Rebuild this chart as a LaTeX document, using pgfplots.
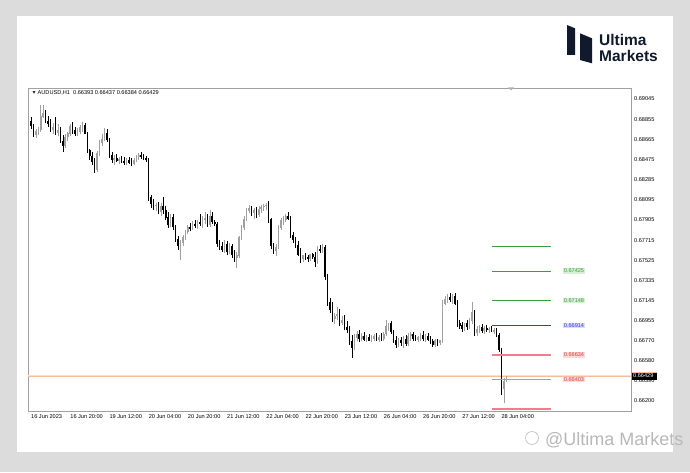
\documentclass[border=0pt]{standalone}
\usepackage{pgfplots}
\pgfplotsset{compat=1.18}
\usepackage{pgfplotstable}
\usepackage{fontspec}
\setmainfont{Liberation Sans}

\definecolor{bgout}{HTML}{DCDCDC}
\definecolor{frame}{HTML}{A0A0A0}
\definecolor{bull}{HTML}{A0A0A0}
\definecolor{navy}{HTML}{111A2C}
\definecolor{fibgreen}{HTML}{3A9E3A}
\definecolor{fibgreenbg}{HTML}{D6F0D6}
\definecolor{fibblue}{HTML}{3535F0}
\definecolor{fibbluebg}{HTML}{DCDCFA}
\definecolor{fibred}{HTML}{F07D8C}
\definecolor{fibredtxt}{HTML}{E03A3A}
\definecolor{fibredbg}{HTML}{FFD8DC}
\definecolor{bidline}{HTML}{F4BE9C}

% hourly AUDUSD bars (index, open, high, low, close), rising bars
\pgfplotstableread{
i o h l c
2 0.6871 0.6876 0.6868 0.6874
3 0.6874 0.6878 0.6871 0.6876
4 0.6876 0.6899 0.6874 0.6888
5 0.6888 0.6899 0.6887 0.6891
9 0.6876 0.6882 0.6872 0.6878
11 0.6873 0.6881 0.6870 0.6875
14 0.6860 0.6872 0.6858 0.6869
15 0.6869 0.6874 0.6865 0.6872
16 0.6872 0.6881 0.6870 0.6879
19 0.6872 0.6877 0.6870 0.6874
20 0.6874 0.6880 0.6872 0.6878
21 0.6878 0.6883 0.6874 0.6880
27 0.6838 0.6856 0.6836 0.6854
28 0.6854 0.6866 0.6851 0.6863
29 0.6863 0.6872 0.6860 0.6867
30 0.6867 0.6877 0.6865 0.6872
34 0.6847 0.6852 0.6842 0.6849
36 0.6846 0.6850 0.6843 0.6848
39 0.6845 0.6849 0.6842 0.6847
42 0.6844 0.6849 0.6842 0.6847
43 0.6847 0.6852 0.6845 0.6850
44 0.6850 0.6854 0.6847 0.6852
51 0.6804 0.6807 0.6799 0.6805
53 0.6798 0.6807 0.6794 0.6804
57 0.6786 0.6796 0.6784 0.6793
61 0.6766 0.6772 0.6753 0.6769
62 0.6769 0.6776 0.6766 0.6774
63 0.6774 0.6781 0.6772 0.6779
64 0.6779 0.6786 0.6777 0.6784
66 0.6783 0.6790 0.6781 0.6787
68 0.6785 0.6791 0.6782 0.6789
70 0.6787 0.6794 0.6783 0.6791
71 0.6791 0.6798 0.6787 0.6792
73 0.6786 0.6800 0.6784 0.6794
79 0.6763 0.6772 0.6760 0.6768
81 0.6761 0.6769 0.6759 0.6766
84 0.6755 0.6760 0.6745 0.6757
85 0.6757 0.6776 0.6755 0.6774
86 0.6774 0.6786 0.6772 0.6783
87 0.6783 0.6794 0.6781 0.6791
88 0.6791 0.6802 0.6790 0.6799
89 0.6799 0.6805 0.6797 0.6802
91 0.6797 0.6802 0.6792 0.6800
93 0.6795 0.6804 0.6793 0.6801
94 0.6801 0.6805 0.6797 0.6803
95 0.6803 0.6806 0.6799 0.6804
96 0.6804 0.6807 0.6800 0.6805
100 0.6762 0.6768 0.6757 0.6765
101 0.6765 0.6786 0.6763 0.6783
102 0.6783 0.6792 0.6781 0.6790
103 0.6790 0.6794 0.6786 0.6791
104 0.6791 0.6796 0.6789 0.6794
111 0.6754 0.6758 0.6751 0.6757
114 0.6754 0.6759 0.6752 0.6758
117 0.6751 0.6766 0.6749 0.6763
119 0.6762 0.6768 0.6760 0.6765
124 0.6698 0.6703 0.6693 0.6700
125 0.6700 0.6709 0.6696 0.6702
127 0.6694 0.6700 0.6692 0.6696
132 0.6670 0.6683 0.6668 0.6680
133 0.6680 0.6686 0.6677 0.6683
135 0.6679 0.6684 0.6677 0.6681
137 0.6678 0.6682 0.6676 0.6680
139 0.6677 0.6682 0.6676 0.6679
140 0.6679 0.6683 0.6677 0.6681
142 0.6678 0.6682 0.6676 0.6680
144 0.6679 0.6685 0.6677 0.6683
145 0.6683 0.6696 0.6681 0.6691
146 0.6691 0.6694 0.6686 0.6693
150 0.6673 0.6679 0.6671 0.6677
152 0.6675 0.6681 0.6670 0.6678
154 0.6674 0.6684 0.6672 0.6681
155 0.6681 0.6685 0.6677 0.6683
158 0.6678 0.6681 0.6676 0.6680
159 0.6680 0.6684 0.6677 0.6682
161 0.6679 0.6683 0.6676 0.6681
165 0.6673 0.6678 0.6671 0.6677
167 0.6675 0.6678 0.6673 0.6677
168 0.6677 0.6715 0.6675 0.6712
169 0.6712 0.6719 0.6710 0.6716
170 0.6716 0.6721 0.6712 0.6718
172 0.6715 0.6721 0.6711 0.6719
177 0.6688 0.6694 0.6686 0.6693
179 0.6690 0.6698 0.6688 0.6696
180 0.6696 0.6713 0.6693 0.6704
182 0.6684 0.6691 0.6681 0.6688
183 0.6688 0.6692 0.6684 0.6690
185 0.6686 0.6691 0.6683 0.6689
187 0.6687 0.6690 0.6684 0.6688
189 0.6686 0.6689 0.6683 0.6687
193 0.6632 0.6642 0.6618 0.6639
194 0.66393 0.66437 0.66384 0.66429
}\bullbars

% falling bars
\pgfplotstableread{
i o h l c
0 0.6884 0.6888 0.6876 0.6879
1 0.6879 0.6881 0.6869 0.6871
6 0.6891 0.6894 0.6882 0.6884
7 0.6884 0.6889 0.6878 0.6881
8 0.6881 0.6886 0.6874 0.6876
10 0.6878 0.6888 0.6871 0.6873
12 0.6875 0.6878 0.6863 0.6865
13 0.6865 0.6871 0.6855 0.6860
17 0.6879 0.6883 0.6872 0.6875
18 0.6875 0.6878 0.6870 0.6872
22 0.6880 0.6882 0.6872 0.6872
23 0.6872 0.6874 0.6854 0.6856
24 0.6856 0.6858 0.6847 0.6851
25 0.6851 0.6855 0.6842 0.6845
26 0.6845 0.6849 0.6835 0.6838
31 0.6872 0.6876 0.6864 0.6866
32 0.6866 0.6868 0.6849 0.6852
33 0.6852 0.6855 0.6844 0.6847
35 0.6849 0.6853 0.6845 0.6846
37 0.6848 0.6851 0.6844 0.6846
38 0.6846 0.6850 0.6842 0.6845
40 0.6847 0.6850 0.6843 0.6845
41 0.6845 0.6849 0.6841 0.6844
45 0.6852 0.6855 0.6848 0.6850
46 0.6850 0.6853 0.6847 0.6849
47 0.6849 0.6851 0.6845 0.6847
48 0.6847 0.6849 0.6809 0.6812
49 0.6812 0.6814 0.6802 0.6806
50 0.6806 0.6810 0.6800 0.6804
52 0.6805 0.6808 0.6796 0.6798
54 0.6804 0.6812 0.6796 0.6800
55 0.6800 0.6804 0.6791 0.6793
56 0.6793 0.6798 0.6783 0.6786
58 0.6793 0.6796 0.6781 0.6784
59 0.6784 0.6786 0.6770 0.6773
60 0.6773 0.6775 0.6762 0.6766
65 0.6784 0.6788 0.6780 0.6783
67 0.6787 0.6791 0.6783 0.6785
69 0.6789 0.6796 0.6785 0.6787
72 0.6792 0.6796 0.6784 0.6786
74 0.6794 0.6798 0.6787 0.6789
75 0.6789 0.6791 0.6785 0.6787
76 0.6787 0.6789 0.6765 0.6768
77 0.6768 0.6772 0.6762 0.6766
78 0.6766 0.6770 0.6760 0.6763
80 0.6768 0.6771 0.6758 0.6761
82 0.6766 0.6768 0.6755 0.6758
83 0.6758 0.6762 0.6751 0.6755
90 0.6802 0.6804 0.6794 0.6797
92 0.6800 0.6803 0.6792 0.6795
97 0.6805 0.6808 0.6788 0.6791
98 0.6791 0.6792 0.6763 0.6766
99 0.6766 0.6769 0.6759 0.6762
105 0.6794 0.6798 0.6791 0.6792
106 0.6792 0.6794 0.6774 0.6776
107 0.6776 0.6779 0.6769 0.6772
108 0.6772 0.6775 0.6764 0.6767
109 0.6767 0.6771 0.6757 0.6758
110 0.6758 0.6764 0.6750 0.6754
112 0.6757 0.6760 0.6753 0.6756
113 0.6756 0.6758 0.6751 0.6754
115 0.6758 0.6760 0.6754 0.6756
116 0.6756 0.6760 0.6746 0.6751
118 0.6763 0.6767 0.6759 0.6762
120 0.6765 0.6767 0.6734 0.6737
121 0.6737 0.6740 0.6710 0.6713
122 0.6713 0.6717 0.6703 0.6706
123 0.6706 0.6713 0.6694 0.6698
126 0.6702 0.6707 0.6691 0.6694
128 0.6696 0.6701 0.6687 0.6690
129 0.6690 0.6695 0.6684 0.6687
130 0.6687 0.6691 0.6673 0.6676
131 0.6676 0.6682 0.6661 0.6670
134 0.6683 0.6687 0.6676 0.6679
136 0.6681 0.6685 0.6677 0.6678
138 0.6680 0.6683 0.6677 0.6677
141 0.6681 0.6684 0.6677 0.6678
143 0.6680 0.6684 0.6677 0.6679
147 0.6693 0.6695 0.6683 0.6685
148 0.6685 0.6687 0.6675 0.6677
149 0.6677 0.6681 0.6670 0.6673
151 0.6677 0.6680 0.6672 0.6675
153 0.6678 0.6682 0.6672 0.6674
156 0.6683 0.6685 0.6677 0.6679
157 0.6679 0.6682 0.6677 0.6678
160 0.6682 0.6686 0.6677 0.6679
162 0.6681 0.6684 0.6677 0.6678
163 0.6678 0.6681 0.6674 0.6676
164 0.6676 0.6678 0.6671 0.6673
166 0.6677 0.6679 0.6672 0.6675
171 0.6718 0.6722 0.6713 0.6715
173 0.6719 0.6722 0.6710 0.6712
174 0.6712 0.6715 0.6690 0.6693
175 0.6693 0.6696 0.6688 0.6691
176 0.6691 0.6694 0.6685 0.6688
178 0.6693 0.6696 0.6687 0.6690
181 0.6704 0.6706 0.6681 0.6684
184 0.6690 0.6693 0.6684 0.6686
186 0.6689 0.6692 0.6685 0.6687
188 0.6688 0.6691 0.6685 0.6686
190 0.6687 0.6689 0.6680 0.6682
191 0.6682 0.6684 0.6666 0.6668
192 0.6668 0.6670 0.6626 0.6632
}\bearbars

\pgfplotsset{
  candle/.style 2 args={draw=none, mark=none, forget plot,
    error bars/.cd, y dir=both, y explicit, error mark=none,
    error bar style={draw=#2, line width=#1, line cap=butt}},
  level/.style 2 args={forget plot, draw=#1, line width=#2},
}

\begin{document}
\begin{tikzpicture}
\fill[bgout] (0pt,0pt) rectangle (690pt,472pt);
\fill[white] (17pt,20pt) rectangle (673pt,456pt);

% logo
\fill[navy] (567pt,447pt) -- (575pt,443.7pt) -- (575pt,417pt) -- (567pt,417pt) -- cycle;
\fill[navy] (580pt,438.7pt) -- (592pt,433.7pt) -- (592pt,408.7pt) -- (580pt,412pt) -- cycle;
\node[anchor=base west, inner sep=0pt, text=navy, font=\fontsize{15.5}{16}\selectfont\bfseries] at (599pt,426pt) {Ultima};
\node[anchor=base west, inner sep=0pt, text=navy, font=\fontsize{15.5}{16}\selectfont\bfseries] at (599pt,410pt) {Markets};

\begin{axis}[
  at={(28pt,61pt)}, anchor=south west,
  scale only axis, width=603pt, height=323pt,
  xmin=-1.22, xmax=244.9,
  ymin=0.66106, ymax=0.69149,
  clip=false,
  axis line style={draw=frame, line width=0.8pt},
  major tick length=0pt,
  xtick={0,16,32,48,64,80,96,112,128,144,160,176,192},
  xticklabels={16 Jun 2023,16 Jun 20:00,19 Jun 12:00,20 Jun 04:00,20 Jun 20:00,21 Jun 12:00,22 Jun 04:00,22 Jun 20:00,23 Jun 12:00,26 Jun 04:00,26 Jun 20:00,27 Jun 12:00,28 Jun 04:00},
  xticklabel style={anchor=north west, inner sep=0pt, yshift=-3pt, font=\fontsize{5.6}{6}\selectfont},
  ytick={0.69045,0.68855,0.68665,0.68475,0.68285,0.68095,0.67905,0.67715,0.67525,0.67335,0.67145,0.66955,0.66770,0.66580,0.66390,0.66200},
  yticklabels={0.69045,0.68855,0.68665,0.68475,0.68285,0.68095,0.67905,0.67715,0.67525,0.67335,0.67145,0.66955,0.66770,0.66580,0.66390,0.66200},
  yticklabel pos=right,
  yticklabel style={anchor=west, inner sep=0pt, xshift=3pt, font=\fontsize{5.6}{6}\selectfont},
]

% bid / ask lines
\addplot[level={bidline}{0.7pt}] coordinates {(-1.22,0.66429) (244.9,0.66429)};
\addplot[level={bidline!50}{0.6pt}] coordinates {(-1.22,0.66447) (244.9,0.66447)};

% wicks
\addplot[candle={0.6pt}{bull}] table[x=i,
  y expr={(\thisrow{h}+\thisrow{l})/2},
  y error expr={(\thisrow{h}-\thisrow{l})/2}] {\bullbars};
\addplot[candle={0.6pt}{black}] table[x=i,
  y expr={(\thisrow{h}+\thisrow{l})/2},
  y error expr={(\thisrow{h}-\thisrow{l})/2}] {\bearbars};
% bodies
\addplot[candle={1.6pt}{bull}] table[x=i,
  y expr={(\thisrow{o}+\thisrow{c})/2},
  y error expr={(\thisrow{c}-\thisrow{o})/2+0.00002}] {\bullbars};
\addplot[candle={1.6pt}{black}] table[x=i,
  y expr={(\thisrow{o}+\thisrow{c})/2},
  y error expr={(\thisrow{o}-\thisrow{c})/2+0.00002}] {\bearbars};

% fibonacci levels
\addplot[level={fibgreen}{0.9pt}] coordinates {(188.2,0.67656) (212.2,0.67656)};
\addplot[level={fibgreen}{0.9pt}] coordinates {(188.2,0.67425) (212.2,0.67425)};
\addplot[level={fibgreen}{0.9pt}] coordinates {(188.2,0.67148) (212.2,0.67148)};
\addplot[level={fibblue}{0.9pt}] coordinates {(188.2,0.66914) (212.2,0.66914)};
\addplot[level={fibred}{1.4pt}] coordinates {(188.2,0.66634) (212.2,0.66634)};
\addplot[level={fibred}{1.4pt}] coordinates {(188.2,0.66403) (212.2,0.66403)};
\addplot[level={fibred}{1.4pt}] coordinates {(188.2,0.66126) (212.2,0.66126)};

\tikzset{lvl/.style={anchor=west, inner xsep=1pt, inner ysep=0.6pt, font=\fontsize{5.6}{6}\selectfont}}
\node[lvl, fill=fibgreenbg, text=fibgreen] at (axis cs:217,0.67425) {0.67425};
\node[lvl, fill=fibgreenbg, text=fibgreen] at (axis cs:217,0.67148) {0.67148};
\node[lvl, fill=fibbluebg, text=fibblue] at (axis cs:217,0.66914) {0.66914};
\node[lvl, fill=fibredbg, text=fibredtxt] at (axis cs:217,0.66634) {0.66634};
\node[lvl, fill=fibredbg, text=fibredtxt] at (axis cs:217,0.66403) {0.66403};
\end{axis}

% header
\fill[black!80] (32.5pt,380.8pt) -- (35.5pt,380.8pt) -- (34pt,378.2pt) -- cycle;
\node[anchor=west, inner sep=0pt, font=\fontsize{5.6}{6}\selectfont] at (37.5pt,379.5pt) {AUDUSD,H1\ \ 0.66393 0.66437 0.66384 0.66429};

% shift marker
\fill[black!30] (508pt,384.5pt) -- (514pt,384.5pt) -- (511pt,381.5pt) -- cycle;

% current price box
\fill[black] (632pt,92pt) rectangle (657pt,100pt);
\fill[bidline] (632pt,99.4pt) rectangle (657pt,100pt);
\node[anchor=west, inner sep=0pt, text=white, font=\fontsize{5.6}{6}\selectfont] at (633pt,96pt) {0.66429};

% watermark
\draw[black!25, line width=0.6pt] (532pt,34pt) circle (6.5pt);
\node[anchor=base west, inner sep=0pt, text=black!28, font=\fontsize{18}{20}\selectfont] at (545pt,27pt) {@Ultima Markets};
\end{tikzpicture}
\end{document}
